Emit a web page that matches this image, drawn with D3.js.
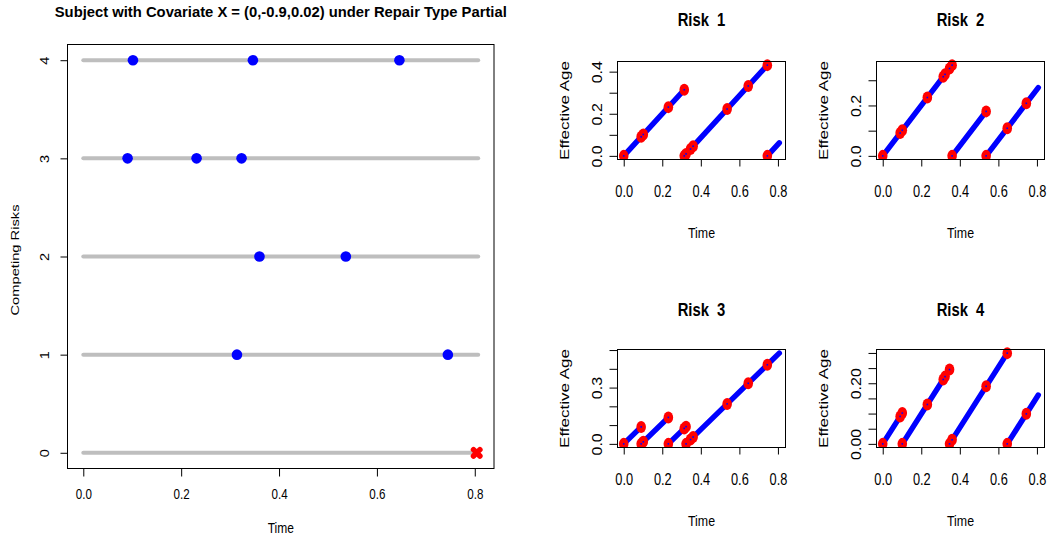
<!DOCTYPE html>
<html><head><meta charset="utf-8">
<script src="https://cdn.jsdelivr.net/npm/d3@7"></script>
<style>
html,body{margin:0;padding:0;background:#fff;}
svg{display:block;font-family:"Liberation Sans",Arial,Helvetica,sans-serif;}
</style></head>
<body><svg id="chart" width="1049" height="539"></svg>
<script>
// ---------------- data ----------------
const eventTimes = [0.0905, 0.1015, 0.2315, 0.314, 0.3234, 0.3466, 0.360, 0.5365, 0.646, 0.745];
const eventRisks = [3, 4, 3, 1, 3, 4, 2, 2, 4, 1];
const censorTime = 0.807;
const riskLevels = [0, 1, 2, 3, 4];
const timeTicks = [0, 0.2, 0.4, 0.6, 0.8];
const timeLabels = ["0.0", "0.2", "0.4", "0.6", "0.8"];
const risk1YTicks = [0, 0.1, 0.2, 0.3, 0.4];
const risk1YLabels = ["0.0", "", "0.2", "", "0.4"];
const risk2YTicks = [0, 0.1, 0.2, 0.3];
const risk2YLabels = ["0.0", "", "0.2", ""];
const risk3YTicks = [0, 0.1, 0.2, 0.3, 0.4, 0.5];
const risk3YLabels = ["0.0", "", "", "0.3", "", ""];
const risk4YTicks = [0, 0.05, 0.10, 0.15, 0.20, 0.25, 0.30];
const risk4YLabels = ["0.00", "", "", "", "0.20", "", ""];
const mainTitle = "Subject with Covariate X = (0,-0.9,0.02) under Repair Type Partial";

// ---------------- helpers ----------------
const svg = d3.select("#chart");
const K = 0.8; // horizontal glyph compression seen in the reference
function ext(lo, hi) { const d = (hi - lo) * 0.04; return [lo - d, hi + d]; }

function hText(g, x, y, s, size, opts = {}) {
  return g.append("text")
    .attr("transform", `translate(${x},${y}) scale(${opts.k || K},1)`)
    .attr("text-anchor", "middle")
    .attr("font-size", size)
    .attr("font-weight", opts.bold ? "bold" : "normal")
    .attr("fill", "#000")
    .text(s);
}
function vText(g, x, y, s, size, opts = {}) {
  return g.append("text")
    .attr("transform", `translate(${x},${y}) rotate(-90) scale(1,${opts.k || K})`)
    .attr("text-anchor", "middle")
    .attr("font-size", size)
    .attr("fill", "#000")
    .text(s);
}
function styleBottomAxis(sel, size, k) {
  sel.select(".domain").remove();
  sel.selectAll(".tick line").attr("stroke", "#000");
  sel.selectAll(".tick text")
    .attr("font-size", size).attr("fill", "#000")
    .attr("font-family", null)
    .attr("transform", `scale(${k},1)`);
}
function styleLeftAxis(sel, size, k, off) {
  sel.select(".domain").remove();
  sel.selectAll(".tick line").attr("stroke", "#000");
  sel.selectAll(".tick text")
    .attr("font-size", size).attr("fill", "#000")
    .attr("font-family", null)
    .attr("x", null).attr("dy", null)
    .attr("text-anchor", "middle")
    .attr("transform", `translate(${-off},0) rotate(-90) scale(1,${k})`);
}

// ---------------- left panel ----------------
const L = { x0: 67.5, x1: 494, y0: 44.5, y1: 468.5 };
const xL = d3.scaleLinear().domain(ext(0, censorTime)).range([L.x0, L.x1]);
const yL = d3.scaleLinear().domain(ext(0, 4)).range([L.y1, L.y0]);
const gL = svg.append("g");

gL.selectAll("line.track").data(riskLevels).join("line")
  .attr("class", "track")
  .attr("x1", xL(0)).attr("x2", xL(censorTime))
  .attr("y1", d => yL(d)).attr("y2", d => yL(d))
  .attr("stroke", "#BEBEBE").attr("stroke-width", 4).attr("stroke-linecap", "round");

gL.selectAll("circle.ev").data(eventTimes).join("circle")
  .attr("class", "ev")
  .attr("cx", d => xL(d)).attr("cy", (d, i) => yL(eventRisks[i]))
  .attr("r", 5.3).attr("fill", "#0000FF");

// censoring mark
const cx0 = xL(censorTime) - 1.5, cy0 = yL(0);
gL.append("path")
  .attr("d", `M${cx0 - 3.2},${cy0 - 3.2}L${cx0 + 3.2},${cy0 + 3.2}M${cx0 - 3.2},${cy0 + 3.2}L${cx0 + 3.2},${cy0 - 3.2}`)
  .attr("stroke", "#FF0000").attr("stroke-width", 5.5).attr("stroke-linecap", "round").attr("fill", "none");

gL.append("rect").attr("x", L.x0).attr("y", L.y0).attr("width", L.x1 - L.x0).attr("height", L.y1 - L.y0)
  .attr("fill", "none").attr("stroke", "#000").attr("stroke-width", 1);

const axLx = gL.append("g").attr("transform", `translate(0,${L.y1})`)
  .call(d3.axisBottom(xL).tickValues(timeTicks).tickFormat((d, i) => timeLabels[i]).tickSize(8).tickPadding(17));
styleBottomAxis(axLx, 14.5, 0.8);
axLx.selectAll(".tick text").attr("dy", null).attr("y", 31);

const axLy = gL.append("g").attr("transform", `translate(${L.x0},0)`)
  .call(d3.axisLeft(yL).tickValues(riskLevels).tickFormat(d3.format("d")).tickSize(7));
styleLeftAxis(axLy, 14.5, 0.85, 18.5);

hText(gL, (L.x0 + L.x1) / 2, 532.5, "Time", 15);
vText(gL, 18.5, 260, "Competing Risks", 14.7);
gL.append("text")
  .attr("x", (L.x0 + L.x1) / 2).attr("y", 17)
  .attr("text-anchor", "middle").attr("font-size", 14).attr("font-weight", "bold")
  .attr("textLength", 452).attr("lengthAdjust", "spacingAndGlyphs")
  .text(mainTitle);

// ---------------- right panels ----------------
const panels = [
  { risk: 1, yt: risk1YTicks, yl: risk1YLabels, x0: 617.5, x1: 785.5, y0: 61.5, y1: 159.5, titleY: 25.7 },
  { risk: 2, yt: risk2YTicks, yl: risk2YLabels, x0: 876.5, x1: 1044.5, y0: 61.5, y1: 159.5, titleY: 25.7 },
  { risk: 3, yt: risk3YTicks, yl: risk3YLabels, x0: 617.5, x1: 785.5, y0: 349.5, y1: 447.5, titleY: 316 },
  { risk: 4, yt: risk4YTicks, yl: risk4YLabels, x0: 876.5, x1: 1044.5, y0: 349.5, y1: 447.5, titleY: 316 }
];

panels.forEach(p => {
  // effective age path for this risk (age since its own last failure)
  const segs = []; const pts = [[0, 0]]; let last = 0;
  eventTimes.forEach((t, i) => {
    pts.push([t, t - last]);
    if (eventRisks[i] === p.risk) { segs.push([last, t]); last = t; pts.push([t, 0]); }
  });
  segs.push([last, censorTime]);
  const maxAge = d3.max(segs, s => s[1] - s[0]);

  const x = d3.scaleLinear().domain(ext(0, censorTime)).range([p.x0, p.x1]);
  const y = d3.scaleLinear().domain(ext(0, maxAge)).range([p.y1, p.y0]);
  const g = svg.append("g");
  const clipId = "clip" + p.risk;
  g.append("clipPath").attr("id", clipId).append("rect")
    .attr("x", p.x0).attr("y", p.y0 - 6).attr("width", p.x1 - p.x0).attr("height", p.y1 - p.y0 + 6);
  const inner = g.append("g").attr("clip-path", `url(#${clipId})`);

  inner.selectAll("line.seg").data(segs).join("line")
    .attr("class", "seg")
    .attr("x1", d => x(d[0])).attr("y1", y(0))
    .attr("x2", d => x(d[1])).attr("y2", d => y(d[1] - d[0]))
    .attr("stroke", "#0000FF").attr("stroke-width", 5.5).attr("stroke-linecap", "round");

  inner.selectAll("ellipse.pt").data(pts).join("ellipse")
    .attr("class", "pt")
    .attr("cx", d => x(d[0])).attr("cy", d => y(d[1]))
    .attr("rx", 4.8).attr("ry", 6).attr("fill", "#FF0000");
  inner.selectAll("rect.ctr").data(pts).join("rect")
    .attr("class", "ctr")
    .attr("x", d => x(d[0]) - 0.8).attr("y", d => y(d[1]) - 0.8)
    .attr("width", 1.6).attr("height", 1.6).attr("fill", "#0000FF");

  g.append("rect").attr("x", p.x0).attr("y", p.y0).attr("width", p.x1 - p.x0).attr("height", p.y1 - p.y0)
    .attr("fill", "none").attr("stroke", "#000").attr("stroke-width", 1);

  const ax = g.append("g").attr("transform", `translate(0,${p.y1})`)
    .call(d3.axisBottom(x).tickValues(timeTicks).tickFormat((d, i) => timeLabels[i]).tickSize(7));
  styleBottomAxis(ax, 16, 0.8);
  ax.selectAll(".tick text").attr("dy", null).attr("y", 38);

  const ay = g.append("g").attr("transform", `translate(${p.x0},0)`)
    .call(d3.axisLeft(y).tickValues(p.yt).tickFormat((d, i) => p.yl[i]).tickSize(8));
  styleLeftAxis(ay, 16, 0.87, 16);

  hText(g, (p.x0 + p.x1) / 2, p.y1 + 78.5, "Time", 15.5);
  vText(g, p.x0 - 48.5, (p.y0 + p.y1) / 2, "Effective Age", 17);
  hText(g, (p.x0 + p.x1) / 2, p.titleY, "Risk  " + p.risk, 19, { bold: true, k: 0.78 })
    .attr("xml:space", "preserve").style("white-space", "pre");
});
</script></body></html>
